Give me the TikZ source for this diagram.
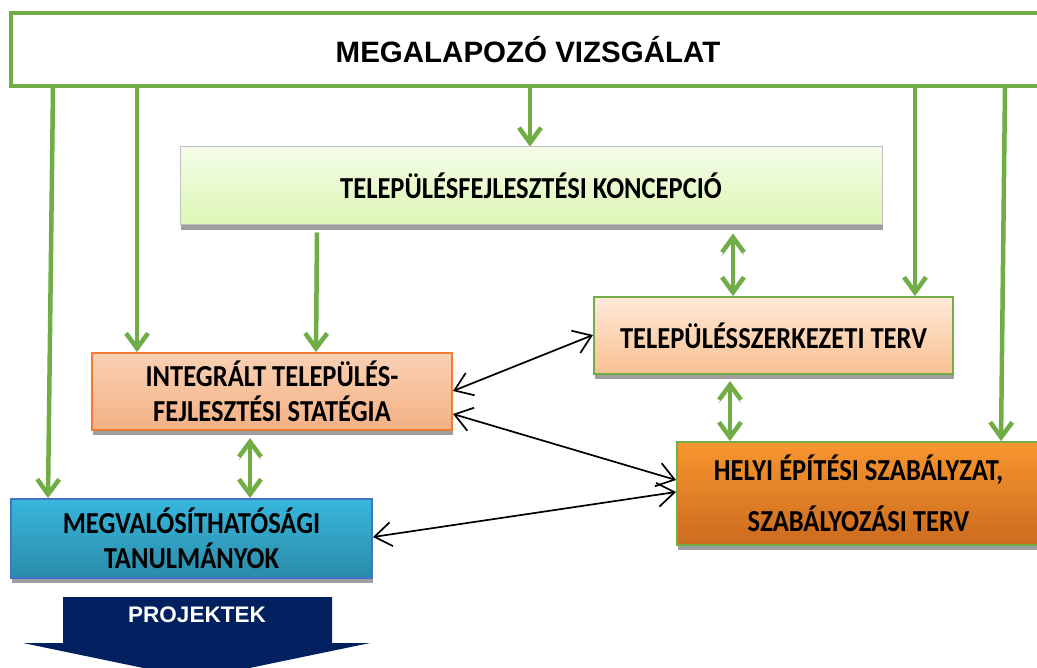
\documentclass[tikz,border=0pt]{standalone}
\usepackage{fontspec}
\setmainfont{Carlito}
\newfontfamily\boxfont[FakeStretch=0.87]{Carlito}
\newfontfamily\arialfont{Liberation Sans}
\usetikzlibrary{arrows.meta,shadows,calc}
\definecolor{gr}{HTML}{70AD47}
\definecolor{kTop}{HTML}{F3FCE8}
\definecolor{kBot}{HTML}{DDF7B3}
\definecolor{tTop}{HTML}{FDE9D9}
\definecolor{tBot}{HTML}{FAC090}
\definecolor{iTop}{HTML}{F9D0B4}
\definecolor{iBot}{HTML}{F4B183}
\definecolor{iBord}{HTML}{ED7D31}
\definecolor{hTop}{HTML}{F8962F}
\definecolor{hBot}{HTML}{CB6B1E}
\definecolor{mTop}{HTML}{38B7DD}
\definecolor{mBot}{HTML}{2A8BA9}
\definecolor{mBord}{HTML}{4472C4}
\definecolor{navy}{HTML}{002060}
\begin{document}
\begin{tikzpicture}[x=1pt,y=-1pt,
  box/.style={draw, rectangle, inner sep=0pt, align=center,
    font=\boxfont\bfseries\fontsize{30.5}{35}\selectfont},
  shad/.style={drop shadow={shadow xshift=1pt, shadow yshift=-5pt, fill=black!38, opacity=1}},
  garrow/.style={draw=gr, line width=4.5pt, -{Straight Barb[length=15pt,width=22pt]},
    preaction={draw=black!40, transform canvas={yshift=-3pt}}},
  gdarrow/.style={draw=gr, line width=4.5pt, {Straight Barb[length=15pt,width=22pt]}-{Straight Barb[length=15pt,width=22pt]},
    preaction={draw=black!40, transform canvas={yshift=-3pt}}},
  barrow/.style={draw=black, line width=1.7pt, {Straight Barb[length=17pt,width=24pt]}-{Straight Barb[length=17pt,width=24pt]}}
]
\useasboundingbox (0,0) rectangle (1037,668);
\clip (0,0) rectangle (1037,668);

% boxes
\node[box, line width=4pt, draw=gr, fill=white, minimum width=1034, minimum height=73,
  font=\arialfont\bfseries\fontsize{29.5}{34}\selectfont] (mega) at (528,49.5) {MEGALAPOZÓ VIZSGÁLAT};

\node[box, shad, draw=black!25, line width=1pt, top color=kTop, bottom color=kBot,
  minimum width=702, minimum height=78] (konc) at (531,186) {TELEPÜLÉSFEJLESZTÉSI KONCEPCIÓ};

\node[box, shad, draw=gr, line width=2pt, top color=tTop, bottom color=tBot,
  minimum width=359, minimum height=77] (telsz) at (773.5,335.5) {TELEPÜLÉSSZERKEZETI TERV};

\node[box, shad, draw=iBord, line width=2pt, top color=iTop, bottom color=iBot,
  minimum width=360, minimum height=77] (integ) at (272,391.5) {INTEGRÁLT TELEPÜLÉS-\\FEJLESZTÉSI STATÉGIA};

\node[box, shad, draw=gr, line width=2pt, top color=hTop, bottom color=hBot,
  minimum width=363, minimum height=103,
  font=\boxfont\bfseries\fontsize{30.5}{51}\selectfont] (helyi) at (858.5,493.5) {HELYI ÉPÍTÉSI SZABÁLYZAT,\\SZABÁLYOZÁSI TERV};

\node[box, shad, draw=mBord, line width=2pt, top color=mTop, bottom color=mBot,
  minimum width=361, minimum height=79] (megv) at (191.5,538.5) {MEGVALÓSÍTHATÓSÁGI\\TANULMÁNYOK};

% projektek arrow
\fill[navy] (63,597) -- (332,597) -- (332,643) -- (370,643) -- (196.5,679) -- (23,643) -- (63,643) -- cycle;
\node[font=\arialfont\bfseries\fontsize{22.5}{26}\selectfont, text=white] (proj) at (197,615) {PROJEKTEK};

% green arrows from the top box
\draw[garrow] (mega.south -| 53,0) -- (megv.north -| 48,0);
\draw[garrow] (mega.south -| 137,0) -- (integ.north -| 137,0);
\draw[garrow] (mega.south -| 530,0) -- (konc.north -| 530,0);
\draw[garrow] (mega.south -| 915,0) -- (telsz.north -| 915,0);
\draw[garrow] (mega.south -| 1005,0) -- (helyi.north -| 1001,0);
\draw[garrow] ([yshift=-7pt]konc.south -| 317,0) -- (integ.north -| 316,0);

% green double arrows
\draw[gdarrow] ([yshift=-8pt]konc.south -| 733,0) -- (telsz.north -| 733,0);
\draw[gdarrow] ([yshift=-6pt]telsz.south -| 730,0) -- (helyi.north -| 730,0);
\draw[gdarrow] ([yshift=-7pt]integ.south -| 250,0) -- (megv.north -| 250,0);

% black double arrows
\draw[barrow] (integ.east |- 0,391) -- (telsz.west |- 0,335);
\draw[barrow] (integ.east |- 0,414) -- (helyi.west |- 0,480);
\draw[barrow] (megv.east |- 0,537) -- (helyi.west |- 0,492);
\end{tikzpicture}
\end{document}
